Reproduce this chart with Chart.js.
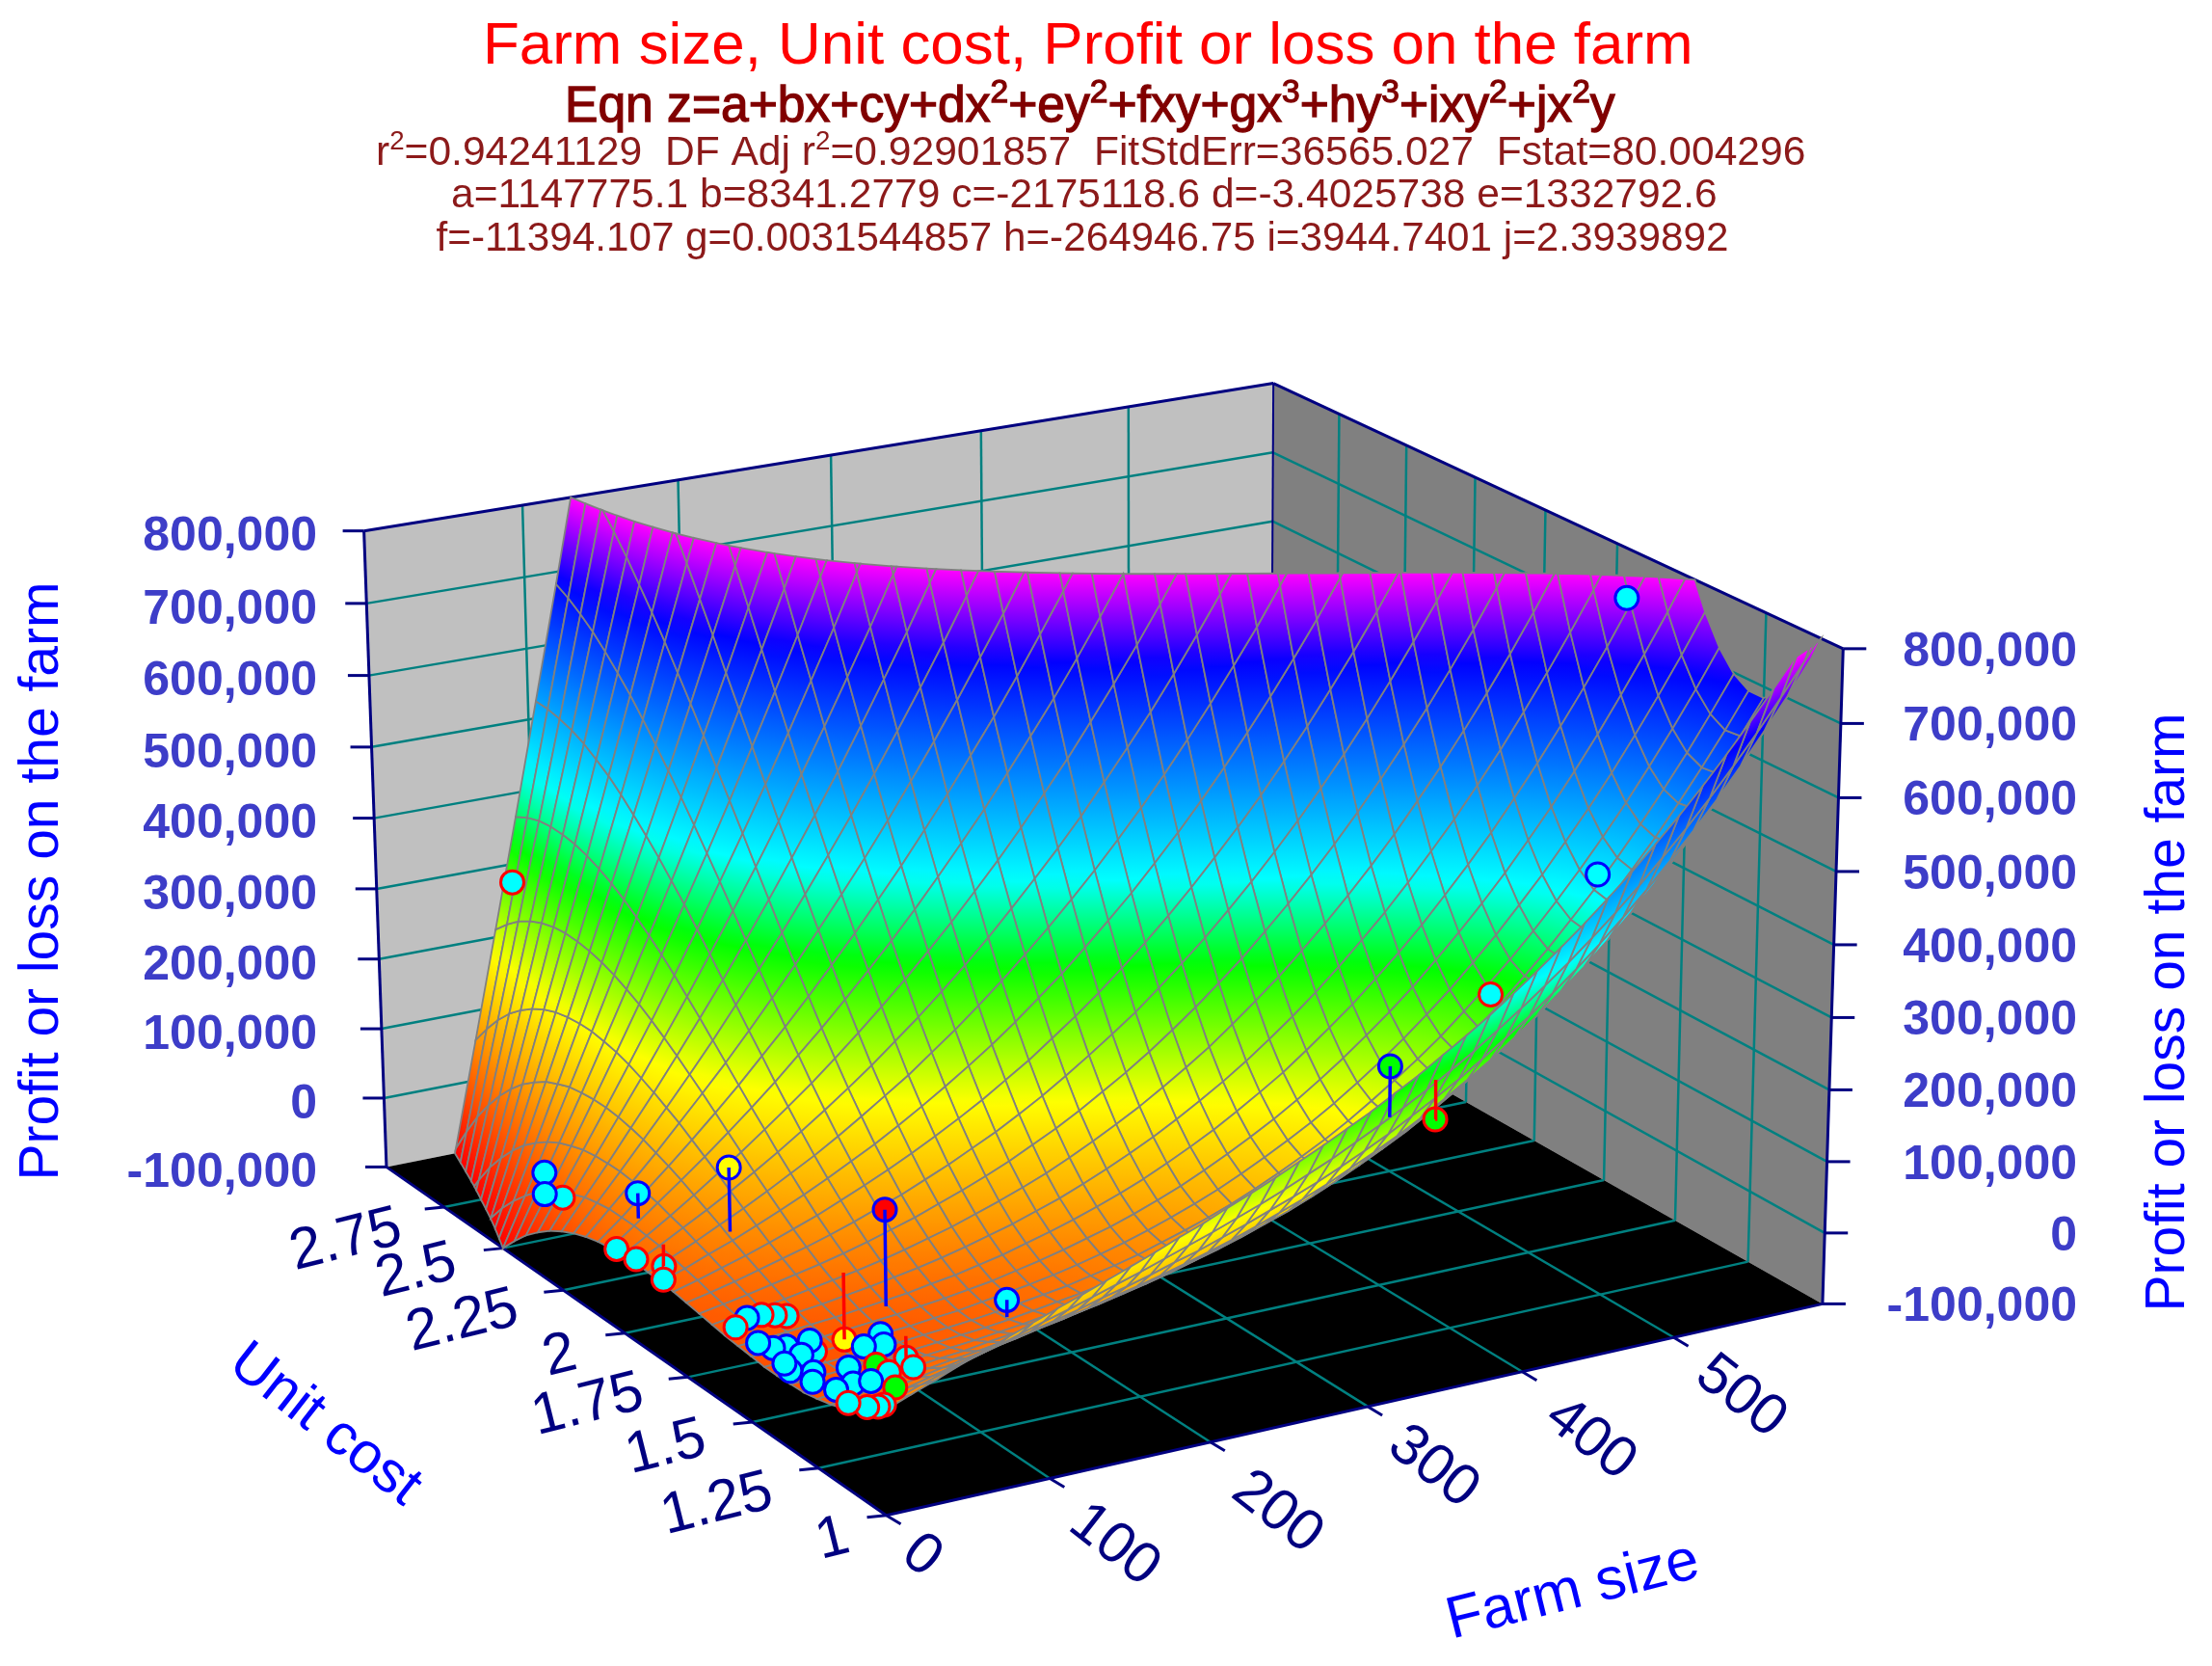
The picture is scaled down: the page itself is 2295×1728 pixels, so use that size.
<!DOCTYPE html>
<html><head><meta charset="utf-8">
<style>html,body{margin:0;padding:0;background:#fff}canvas{display:block}</style>
<script src="https://cdn.jsdelivr.net/npm/chart.js@4"></script></head>
<body><canvas id="c" width="2295" height="1728"></canvas>
<script>
const farmTicks=[100,200,300,400,500];
const costTicks=[1.25,1.5,1.75,2,2.25,2.5,2.75];
const profitTicks=[-100000,0,100000,200000,300000,400000,500000,600000,700000,800000];
const farmLabels=['0','100','200','300','400','500'];
const costLabels=['2.75','2.5','2.25','2','1.75','1.5','1.25','1'];
const farmSizes=[0,15,30,45,60,75,90,105,120,135,150,165,180,195,210,225,240,255,270,285,300,315,330,345,360,375,390,405,420,435,450,465,480,495,510,525,540,555,570,585,600];
const unitCosts=[1,1.05,1.1,1.15,1.2,1.25,1.3,1.35,1.4,1.45,1.5,1.55,1.6,1.65,1.7,1.75,1.8,1.85,1.9,1.95,2,2.05,2.1,2.15,2.2,2.25,2.3,2.35,2.4,2.45,2.5,2.55,2.6,2.65,2.7,2.75,2.8,2.85,2.9,2.95,3];
// surface height in thousands, one row per unit cost, one column per farm size
const profitRows=[
[41,54,66,79,91,103,115,127,138,150,162,174,187,199,213,226,240,255,270,286,302,320,338,358,378,399,422,446,471,497,525,554,585,617,651,687,725,764,805,849,894],
[27,37,48,58,68,77,87,97,106,116,126,136,147,158,169,181,193,206,220,234,250,266,283,301,320,340,362,385,409,434,461,489,519,551,584,619,656,695,736,779,824],
[15,24,32,40,48,56,64,71,79,87,96,104,113,123,132,143,154,166,178,191,205,220,236,254,272,291,312,334,357,382,408,436,466,497,530,565,601,640,681,723,768],
[6,13,19,26,32,38,44,50,57,63,70,78,85,93,102,111,121,132,144,156,169,184,199,215,233,252,272,293,316,341,367,394,424,455,488,522,559,598,639,681,727],
[-1,4,9,14,19,24,28,33,39,44,50,56,63,70,78,87,96,106,117,128,141,155,170,186,203,222,242,263,286,310,336,364,393,424,458,493,530,569,610,653,699],
[-6,-2,1,5,9,13,16,21,25,30,35,40,46,53,60,68,77,86,97,108,121,134,149,165,182,201,221,242,265,290,316,344,374,406,439,475,513,552,594,639,685],
[-10,-7,-4,-1,2,5,8,11,15,19,24,29,35,41,48,56,64,74,84,96,108,122,137,153,170,189,210,232,255,280,307,336,366,399,433,470,508,549,592,637,685],
[-11,-9,-7,-5,-3,0,3,6,9,13,18,23,28,34,41,49,58,68,78,90,103,117,132,149,167,187,208,230,254,280,308,338,369,403,438,476,516,558,602,649,698],
[-12,-10,-8,-6,-4,-2,1,4,7,11,16,21,26,33,40,48,58,68,79,91,105,120,136,153,172,193,215,238,263,291,320,350,383,418,455,494,535,579,625,673,724],
[-12,-10,-8,-6,-4,-1,1,5,8,13,18,23,29,36,44,53,63,74,86,99,114,130,147,165,185,207,230,255,282,310,341,373,408,444,483,523,566,612,660,710,763],
[-10,-8,-6,-4,-1,2,5,9,13,18,23,30,37,45,54,63,74,86,99,114,130,147,165,185,207,230,255,281,309,340,372,406,442,481,521,564,609,657,707,759,814],
[-8,-6,-3,0,3,7,11,15,21,26,33,40,49,58,68,79,91,104,119,135,152,171,191,212,236,261,287,316,346,378,413,449,487,528,571,616,663,713,766,821,879],
[-6,-2,1,5,9,14,19,25,31,38,46,55,64,75,86,99,113,128,144,162,181,201,223,247,272,299,328,359,391,426,463,501,542,585,631,679,729,781,837,895,955],
[-3,2,6,11,17,23,29,36,44,53,62,73,84,96,109,124,140,157,175,195,216,238,263,289,316,346,377,410,445,482,522,563,607,653,701,752,805,861,919,980,1044],
[0,6,12,19,26,33,41,50,60,70,82,94,107,121,137,153,171,191,211,233,257,282,309,337,368,400,434,470,508,548,590,634,681,730,782,836,892,951,1013,1077,1145],
[3,10,18,27,36,45,55,66,78,90,104,118,134,150,168,187,208,230,253,277,304,332,361,393,426,461,498,537,578,621,667,715,765,817,872,930,990,1052,1118,1186,1257],
[6,15,25,35,46,58,70,84,98,113,129,146,164,183,204,225,249,273,299,327,356,387,420,455,491,529,570,612,657,703,752,804,858,914,972,1034,1098,1164,1234,1306,1381],
[8,19,32,44,58,72,87,103,120,137,156,176,197,219,242,267,294,321,351,382,414,449,485,523,563,605,649,695,743,794,846,902,959,1020,1082,1148,1216,1287,1360,1437,1516],
[9,23,38,54,70,87,105,123,143,164,186,208,233,258,285,313,343,374,407,441,477,515,555,597,641,687,734,785,837,892,949,1008,1070,1134,1202,1271,1344,1419,1497,1579,1663],
[10,27,45,63,82,102,123,145,168,192,217,244,271,300,330,362,396,431,467,505,546,588,631,677,725,775,827,882,938,997,1059,1123,1189,1258,1330,1404,1482,1562,1645,1731,1820],
[9,29,50,72,95,118,143,168,194,222,251,281,312,345,379,415,452,491,532,574,619,665,713,763,815,870,926,985,1047,1110,1177,1245,1317,1391,1467,1547,1629,1714,1803,1894,1988],
[7,31,56,81,107,134,162,191,222,253,286,320,355,392,431,471,512,556,601,647,696,747,800,855,912,971,1032,1096,1162,1231,1302,1376,1452,1531,1613,1698,1786,1877,1970,2067,2167],
[4,31,60,89,119,150,182,216,250,286,323,361,401,442,485,529,576,623,673,725,778,834,892,951,1013,1078,1144,1213,1284,1358,1435,1514,1596,1681,1768,1858,1952,2048,2148,2250,2356],
[-1,31,63,96,131,166,202,240,279,319,361,404,448,494,542,591,642,695,749,806,865,925,988,1053,1120,1190,1262,1336,1413,1493,1575,1660,1747,1838,1931,2027,2127,2229,2335,2443,2555],
[-8,28,65,103,141,181,222,265,308,353,400,448,497,548,601,655,711,769,829,891,955,1021,1089,1160,1233,1308,1386,1466,1549,1634,1722,1813,1907,2003,2102,2205,2310,2419,2531,2646,2765],
[-17,24,65,108,151,196,242,289,338,388,440,493,547,604,662,721,783,846,912,980,1049,1121,1195,1272,1350,1431,1515,1601,1690,1782,1876,1973,2073,2176,2282,2391,2503,2618,2736,2858,2984],
[-28,17,64,112,160,210,261,314,368,423,480,539,599,661,724,790,857,927,998,1071,1147,1225,1305,1388,1473,1560,1650,1742,1838,1936,2036,2140,2247,2356,2469,2584,2703,2825,2951,3080,3212],
[-42,9,61,114,168,223,280,338,398,459,521,586,652,719,789,860,934,1009,1087,1166,1248,1333,1419,1508,1599,1693,1790,1889,1991,2096,2203,2314,2427,2544,2663,2786,2912,3041,3174,3310,3450],
[-58,-2,55,114,174,235,298,362,427,494,563,633,705,779,855,933,1012,1094,1178,1264,1353,1444,1537,1633,1731,1832,1935,2041,2150,2262,2376,2494,2615,2738,2865,2995,3129,3266,3406,3550,3697],
[-78,-15,48,112,178,245,314,384,456,529,604,681,759,840,922,1006,1093,1181,1272,1365,1461,1558,1658,1761,1866,1974,2085,2198,2314,2433,2555,2681,2809,2940,3075,3212,3353,3498,3646,3798,3953],
[-100,-32,38,109,181,254,329,406,484,564,645,729,814,901,990,1082,1175,1271,1368,1468,1571,1676,1783,1893,2006,2121,2239,2360,2484,2611,2740,2873,3009,3148,3291,3436,3586,3738,3894,4054,4218],
[-125,-51,25,102,181,261,343,426,511,598,687,777,869,963,1060,1158,1259,1361,1467,1574,1684,1796,1911,2029,2149,2272,2398,2527,2658,2793,2931,3072,3216,3363,3514,3668,3825,3986,4151,4319,4491],
[-155,-73,10,94,179,266,355,445,537,631,727,825,924,1026,1130,1235,1344,1454,1567,1682,1799,1920,2043,2168,2296,2427,2561,2698,2838,2981,3127,3276,3428,3584,3743,3906,4072,4241,4415,4592,4772],
[-187,-99,-9,82,175,269,365,463,562,664,767,872,979,1088,1200,1314,1429,1548,1668,1792,1917,2046,2176,2310,2447,2586,2728,2873,3022,3173,3328,3486,3647,3811,3979,4151,4326,4504,4686,4872,5062],
[-224,-128,-31,68,168,270,373,479,586,695,806,919,1034,1151,1270,1392,1516,1643,1772,1903,2037,2174,2313,2455,2600,2748,2899,3053,3210,3370,3534,3701,3871,4044,4221,4402,4586,4774,4965,5161,5360],
[-265,-161,-56,50,158,268,379,492,607,724,844,965,1088,1213,1341,1471,1604,1739,1876,2016,2159,2304,2452,2603,2757,2914,3074,3237,3403,3572,3745,3921,4100,4283,4469,4659,4853,5050,5252,5457,5666],
[-310,-198,-86,29,145,263,382,504,627,753,880,1010,1141,1275,1412,1550,1692,1835,1982,2130,2282,2436,2594,2754,2917,3083,3252,3424,3599,3778,3960,4146,4335,4527,4723,4923,5126,5334,5545,5760,5979],
[-359,-240,-119,4,129,255,383,513,645,779,915,1053,1194,1337,1482,1630,1780,1933,2088,2246,2407,2570,2737,2906,3079,3254,3433,3615,3800,3988,4180,4376,4574,4777,4983,5193,5406,5623,5845,6070,6299],
[-413,-285,-156,-24,109,244,381,519,660,803,948,1096,1245,1397,1552,1709,1868,2030,2195,2362,2533,2706,2882,3061,3243,3429,3617,3809,4004,4202,4404,4610,4819,5031,5248,5468,5692,5919,6151,6387,6627],
[-472,-335,-197,-57,85,229,375,523,673,825,980,1136,1295,1457,1621,1787,1956,2128,2302,2480,2660,2843,3029,3218,3410,3606,3804,4006,4212,4420,4633,4848,5068,5291,5518,5748,5983,6222,6464,6711,6962],
[-536,-390,-243,-93,58,211,366,524,683,845,1009,1175,1344,1515,1689,1865,2044,2226,2410,2598,2788,2981,3177,3377,3579,3785,3994,4206,4422,4642,4864,5091,5321,5555,5793,6034,6280,6530,6783,7041,7303]];
// observed farms: size, unit cost, profit (thousands), height of the fitted surface under the point (thousands)
const obsFarm=[21,13,14,19,47,89,136,1,2,17,2,38,33,27,19,9,32,22,15,11,36,24,18,9,11,11,83,82,59,72,67,57,49,36,47,25,14,33,31,8,6,5,6,81,569,515,449,321,403];
const obsCost=[2.456,2.328,2.41,2.058,1.872,1.534,1.364,2.032,1.96,1.946,1.852,1.6,1.614,1.628,1.634,1.616,1.456,1.502,1.51,1.542,1.5,1.458,1.376,1.408,1.442,1.336,1.658,1.418,1.252,1.452,1.41,1.424,1.33,1.354,1.27,1.27,1.266,1.252,1.15,1.052,1.062,1.096,1.172,2.962,1.558,1.364,1.382,1.048,1.326];
const obsProfit=[8.3,6.4,-8.3,72.9,139.1,141,36,9.6,12,-1.4,9.4,3.1,3.2,3,1.3,-2.7,-7.7,-7.3,-7.9,-6.9,-5.4,-8.7,-9.6,-11.1,-10.6,-9.3,-64.9,-30.9,8.3,-1.9,-3.4,-4.9,-2.9,-6.4,2.8,-2,-4.1,1.9,19.6,31.8,27.7,18.9,5.1,284.2,772.8,454.2,312.4,343.3,172];
const obsSurface=[8.3,6.4,-8.3,37.8,50.4,8.3,12.5,9.6,12,28.9,9.4,3.1,3.2,3,1.3,-2.7,-7.7,-7.3,-7.9,-6.9,-5.4,-8.7,-9.6,-11.1,-10.6,-9.3,27.8,-0.9,8.3,-1.9,-3.4,-4.9,-2.9,-6.4,2.8,-2,-4.1,1.9,19.6,31.8,27.7,18.9,5.1,284.2,772.8,454.2,312.4,274.6,226.6];
const obsMarker=['c','c','c','c','y','r','c','c','c','c','c','c','c','c','c','c','c','c','c','c','c','c','c','c','c','c','y','c','c','c','c','c','g','c','c','c','c','c','g','c','c','c','c','c','c','c','c','g','g'];
const obsSide=['a','b','a','a','a','a','a','b','b','b','b','b','b','b','a','b','b','a','a','a','a','a','a','a','a','a','b','b','b','a','a','a','b','a','b','a','a','a','b','b','b','b','b','b','a','a','b','a','b'];

const markerFill={c:'#00ffff',y:'#ffff00',r:'#ff0000',g:'#00ff00'}, sideEdge={a:'#0000ff',b:'#ff0000'};
const view=[1082.9389,-479.83208,-37.478554,919.51787,-139.59712,-244.45285,-740.777,1571.761,0.058992293,0.096596887,-0.031449921];
const X0=0,X1=600,Y0=1,Y1=3,Z0=-100000,Z1=800000;
function proj(x,y,z){const X=(x-X0)/(X1-X0),Y=(y-Y0)/(Y1-Y0),Z=(z-Z0)/(Z1-Z0),P=view,w=P[8]*X+P[9]*Y+P[10]*Z+1;return {u:(P[0]*X+P[1]*Y+P[2]*Z+P[3])/w,v:(P[4]*X+P[5]*Y+P[6]*Z+P[7])/w,w};}
const cstops=[[-1e5,[255,0,0]],[18e4,[255,255,0]],[33e4,[0,255,0]],[43e4,[0,255,255]],[69e4,[0,0,255]],[8e5,[255,0,255]]];
function col(z){for(let i=1;i<cstops.length;i++)if(z<=cstops[i][0]){const [a,ca]=cstops[i-1],[b,cb]=cstops[i],t=Math.max(0,(z-a)/(b-a));return `rgb(${ca.map((c,k)=>Math.round(c+(cb[k]-c)*t)).join(',')})`;}return 'rgb(255,0,255)';}
function clipPoly(poly,zlim,keepAbove){const out=[];for(let i=0;i<poly.length;i++){const a=poly[i],b=poly[(i+1)%poly.length],ia=keepAbove?a[2]>=zlim:a[2]<=zlim,ib=keepAbove?b[2]>=zlim:b[2]<=zlim;if(ia)out.push(a);if(ia!==ib){const t=(zlim-a[2])/(b[2]-a[2]);out.push([a[0]+(b[0]-a[0])*t,a[1]+(b[1]-a[1])*t,zlim]);}}return out;}
const cells=[];
for(let j=0;j<unitCosts.length-1;j++)for(let i=0;i<farmSizes.length-1;i++){
 let q=[[farmSizes[i],unitCosts[j],profitRows[j][i]*1000],[farmSizes[i+1],unitCosts[j],profitRows[j][i+1]*1000],[farmSizes[i+1],unitCosts[j+1],profitRows[j+1][i+1]*1000],[farmSizes[i],unitCosts[j+1],profitRows[j+1][i]*1000]];
 q=clipPoly(q,Z0,true);if(q.length)q=clipPoly(q,Z1,false);if(q.length<3)continue;
 let w=0;for(const p of q)w+=proj(...p).w;cells.push({q,w:w/q.length});}
cells.sort((a,b)=>b.w-a.w);
const NAVY='#000080',TEAL='#008080';
const plug={id:'scene',beforeDatasetsDraw(ch){const c=ch.ctx,sx=ch.scales.x,sy=ch.scales.y,pt=(x,y,z)=>{const p=proj(x,y,z);return [sx.getPixelForValue(p.u),sy.getPixelForValue(p.v)];};
 const poly=(a,fill)=>{c.beginPath();a.forEach((p,i)=>i?c.lineTo(...p):c.moveTo(...p));c.closePath();c.fillStyle=fill;c.fill();};
 const ln=(a,b,col,w)=>{c.beginPath();c.moveTo(...a);c.lineTo(...b);c.strokeStyle=col;c.lineWidth=w;c.stroke();};
 poly([pt(X0,Y1,Z0),pt(X1,Y1,Z0),pt(X1,Y1,Z1),pt(X0,Y1,Z1)],'#c0c0c0');
 poly([pt(X1,Y1,Z0),pt(X1,Y0,Z0),pt(X1,Y0,Z1),pt(X1,Y1,Z1)],'#808080');
 poly([pt(X0,Y0,Z0),pt(X1,Y0,Z0),pt(X1,Y1,Z0),pt(X0,Y1,Z0)],'#000');
 for(const x of farmTicks){ln(pt(x,Y1,Z0),pt(x,Y1,Z1),TEAL,2.5);ln(pt(x,Y0,Z0),pt(x,Y1,Z0),TEAL,2.5);}
 for(const y of costTicks){ln(pt(X1,y,Z0),pt(X1,y,Z1),TEAL,2.5);ln(pt(X0,y,Z0),pt(X1,y,Z0),TEAL,2.5);}
 for(const z of profitTicks){if(z==Z0||z==Z1)continue;ln(pt(X0,Y1,z),pt(X1,Y1,z),TEAL,2.5);ln(pt(X1,Y1,z),pt(X1,Y0,z),TEAL,2.5);}
 ln(pt(X0,Y1,Z0),pt(X0,Y1,Z1),NAVY,3);ln(pt(X0,Y1,Z1),pt(X1,Y1,Z1),NAVY,3);ln(pt(X1,Y1,Z1),pt(X1,Y0,Z1),NAVY,3);ln(pt(X1,Y0,Z1),pt(X1,Y0,Z0),NAVY,3);ln(pt(X1,Y1,Z1),pt(X1,Y1,Z0),NAVY,2);
 ln(pt(X0,Y1,Z0),pt(X0,Y0,Z0),NAVY,3);ln(pt(X0,Y0,Z0),pt(X1,Y0,Z0),NAVY,3);
 for(const z of profitTicks){const a=pt(X0,Y1,z),b=pt(X1,Y0,z);ln(a,[a[0]-22,a[1]],NAVY,3);ln(b,[b[0]+24,b[1]],NAVY,3);}
 for(const y of [...costTicks,Y0]){const a=pt(X0,y,Z0);ln(a,[a[0]-20,a[1]+2],NAVY,3);}
 for(const x of [...farmTicks,X0]){const a=pt(x,Y0,Z0);ln(a,[a[0]+15,a[1]+9],NAVY,3);}
 for(const cell of cells){const pts=cell.q.map(p=>pt(...p));
  let mx=0,my=0,mz=0;const n=pts.length;pts.forEach((p,i)=>{mx+=p[0];my+=p[1];mz+=cell.q[i][2];});mx/=n;my/=n;mz/=n;
  let sxx=0,sxy=0,syy=0,sxz=0,syz=0;pts.forEach((p,i)=>{const a=p[0]-mx,b=p[1]-my,d=cell.q[i][2]-mz;sxx+=a*a;sxy+=a*b;syy+=b*b;sxz+=a*d;syz+=b*d;});
  const det=sxx*syy-sxy*sxy;let fs;if(Math.abs(det)<1e-6){fs=col(mz);}else{const ga=(syy*sxz-sxy*syz)/det,gb=(sxx*syz-sxy*sxz)/det,g2=ga*ga+gb*gb;
   const zmin=Math.min(...cell.q.map(p=>p[2])),zmax=Math.max(...cell.q.map(p=>p[2]));if(g2<1e-9||zmax-zmin<1){fs=col(mz);}else{
   const t0=(zmin-mz)/g2,t1=(zmax-mz)/g2;const g=c.createLinearGradient(mx+ga*t0,my+gb*t0,mx+ga*t1,my+gb*t1);const K=6;for(let k=0;k<=K;k++)g.addColorStop(k/K,col(zmin+(zmax-zmin)*k/K));fs=g;}}
  c.beginPath();pts.forEach((p,i)=>i?c.lineTo(...p):c.moveTo(...p));c.closePath();c.fillStyle=fs;c.fill();c.strokeStyle='#808080';c.lineWidth=1.8;c.stroke();}
},
afterDraw(ch){const c=ch.ctx,sx=ch.scales.x,sy=ch.scales.y,pt=(x,y,z)=>{const p=proj(x,y,z);return [sx.getPixelForValue(p.u),sy.getPixelForValue(p.v)];};
 const A='"Liberation Sans"';
 function fit(segs,cx,base,width,color,stroke){let fs=50;const W=fs=>{let w=0;for(const s of segs){c.font=`${s[1]?fs*.65:fs}px ${A}`;w+=c.measureText(s[0]).width;}return w;};fs=fs*width/W(fs);let x=cx-width/2;c.textAlign='left';c.textBaseline='alphabetic';c.fillStyle=color;c.strokeStyle=color;c.lineWidth=stroke||0;for(const s of segs){c.font=`${s[1]?fs*.65:fs}px ${A}`;const yy=s[1]?base-fs*.38:base;c.fillText(s[0],x,yy);if(stroke)c.strokeText(s[0],x,yy);x+=c.measureText(s[0]).width;}}
 fit([['Farm size, Unit cost, Profit or loss on the farm']],1129,66,1256,'#ff0000');
 fit([['Eqn z=a+bx+cy+dx'],['2',1],['+ey'],['2',1],['+fxy+gx'],['3',1],['+hy'],['3',1],['+ixy'],['2',1],['+jx'],['2',1],['y']],1131,126,1090,'#800000',1.3);
 const D='#8c1a1a';
 fit([['r'],['2',1],['=0.94241129  DF Adj r'],['2',1],['=0.92901857  FitStdErr=36565.027  Fstat=80.004296']],1132,171,1484,D);
 fit([['a=1147775.1 b=8341.2779 c=-2175118.6 d=-3.4025738 e=1332792.6']],1125,215,1314,D);
 fit([['f=-11394.107 g=0.0031544857 h=-264946.75 i=3944.7401 j=2.3939892']],1123,260,1341,D);
 const fmt=z=>z.toLocaleString('en-US');
 c.font='bold 50px '+A;c.fillStyle='#3d3dc8';c.textAlign='right';c.textBaseline='middle';
 for(const z of profitTicks){const a=pt(X0,Y1,z),b=pt(X1,Y0,z);c.fillText(fmt(z),329,a[1]+7);c.fillText(fmt(z),2155,b[1]+4);}
 const rot=(t,x,y,ang,font,col)=>{c.save();c.translate(x,y);c.rotate(ang*Math.PI/180);c.font=font;c.fillStyle=col;c.textAlign='center';c.textBaseline='middle';c.fillText(t,0,0);c.restore();};
 rot('Profit or loss on the farm',44,914,-90,'57px '+A,'#0000ff');rot('Profit or loss on the farm',2250,1050,-90,'57px '+A,'#0000ff');
 rot('Unit cost',337,1478,38,'60px '+A,'#0000ff');rot('Farm size',1632,1651,-14,'61px '+A,'#0000ff');
 const tl='60px '+A;
 const cp=[[359,1287],[432,1319],[480,1371],[581,1407],[610,1458],[691,1502],[744,1561],[864,1597]];
 costLabels.forEach((t,i)=>rot(t,cp[i][0],cp[i][1],-14,tl,NAVY));
 const xp=[[956,1614],[1156,1603],[1325,1569],[1487,1522],[1650,1493],[1806,1449]];
 farmLabels.forEach((t,i)=>rot(t,xp[i][0],xp[i][1],38,tl,NAVY));
}};
const ds=[];
obsFarm.forEach((x,i)=>{if(obsProfit[i]===obsSurface[i])return;const a=proj(x,obsCost[i],obsProfit[i]*1000),b=proj(x,obsCost[i],obsSurface[i]*1000);ds.push({type:'line',data:[{x:a.u,y:a.v},{x:b.u,y:b.v}],borderColor:sideEdge[obsSide[i]],borderWidth:3.5,pointRadius:0,parsing:false});});
ds.push({type:'scatter',label:'Observed farms',data:obsFarm.map((x,i)=>{const p=proj(x,obsCost[i],obsProfit[i]*1000);return{x:p.u,y:p.v};}),pointRadius:12,pointHoverRadius:12,pointBackgroundColor:obsMarker.map(k=>markerFill[k]),pointBorderColor:obsSide.map(k=>sideEdge[k]),pointBorderWidth:3});
new Chart(document.getElementById('c'),{type:'scatter',data:{datasets:ds},plugins:[plug],options:{responsive:false,animation:false,events:[],layout:{padding:0,autoPadding:false},plugins:{legend:{display:false},tooltip:{enabled:false},title:{display:false}},scales:{x:{type:'linear',min:0,max:2295,display:false},y:{type:'linear',min:0,max:1728,reverse:true,display:false}}}});
</script></body></html>
